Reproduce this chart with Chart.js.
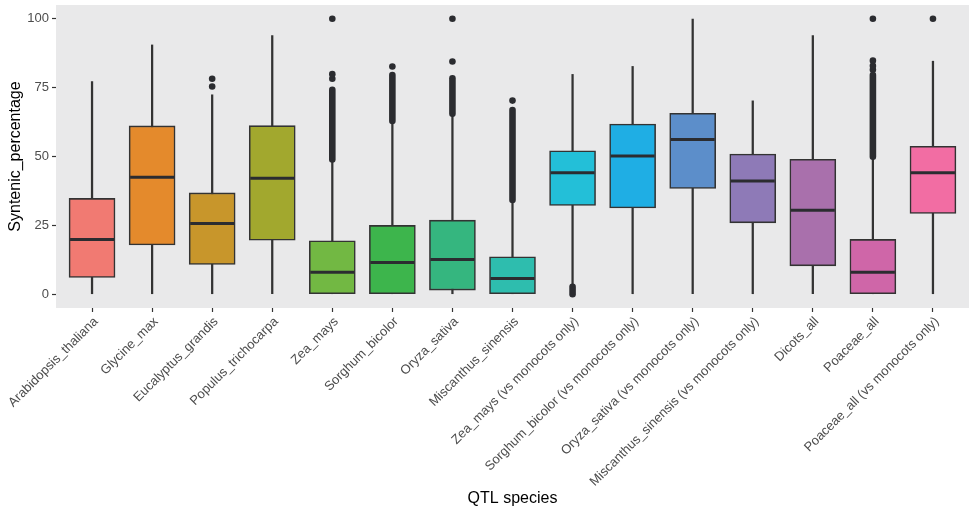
<!DOCTYPE html>
<html>
<head>
<meta charset="utf-8">
<script src="https://cdn.jsdelivr.net/npm/chart.js@4/dist/chart.umd.min.js"></script>
<style>
  html, body { margin: 0; padding: 0; background: #ffffff; }
  #wrap { width: 969px; height: 509px; }
</style>
</head>
<body>
<div id="wrap"><canvas id="c"></canvas></div>
<script>
// QTL species on the x axis
const species = [
  'Arabidopsis_thaliana', 'Glycine_max', 'Eucalyptus_grandis', 'Populus_trichocarpa',
  'Zea_mays', 'Sorghum_bicolor', 'Oryza_sativa', 'Miscanthus_sinensis',
  'Zea_mays (vs monocots only)', 'Sorghum_bicolor (vs monocots only)',
  'Oryza_sativa (vs monocots only)', 'Miscanthus_sinensis (vs monocots only)',
  'Dicots_all', 'Poaceae_all', 'Poaceae_all (vs monocots only)'
];

// Five-number summaries of syntenic percentage per species
const lowerWhisker = [0, 0, 0, 0, 0, 0, 0, 0, 3.5, 0, 0, 0, 0, 0, 0];
const q1           = [6.1, 17.9, 10.8, 19.6, 0, 0, 1.5, 0, 32.2, 31.3, 38.4, 25.9, 10.3, 0, 29.3];
const median       = [19.9, 42.5, 25.7, 42.1, 8.0, 11.5, 12.6, 5.7, 44.1, 50.2, 56.2, 41.1, 30.5, 8.0, 44.1];
const q3           = [34.8, 61.1, 36.8, 61.2, 19.4, 25.0, 26.9, 13.6, 52.1, 61.8, 65.7, 50.9, 49.0, 19.9, 53.7];
const upperWhisker = [77.2, 90.5, 72.4, 93.9, 48.3, 62.2, 64.6, 33.4, 79.8, 82.7, 99.9, 70.2, 93.9, 49.2, 84.6];

// Individually visible outliers
const outlierPoints = [
  [], [], [75.4, 78.2], [], [78.2, 79.9, 100], [82.7], [84.5, 100], [70.3],
  [], [], [], [], [], [81.5, 82.9, 84.8, 100], [100]
];
// Runs of outliers so dense they merge into a solid column
const outlierRunLow  = [null, null, null, null, 48.9, 62.9, 65.5, 34.2, 0, null, null, null, null, 49.9, null];
const outlierRunHigh = [null, null, null, null, 74.2, 79.6, 78.4, 66.9, 2.7, null, null, null, null, 79.6, null];

const boxColors = [
  '#F17A72', '#E48A2C', '#C8962B', '#A2A82E', '#72B843', '#3DB54C', '#35B67F', '#2EBDAE',
  '#23BFD8', '#1FAEE4', '#5C8ECA', '#8E7AB7', '#A970AC', '#CF66A8', '#F26DA3'
];

const yTicks = [0, 25, 50, 75, 100];

const FONT = "'Liberation Sans', Arial, Helvetica, sans-serif";
const INK = '#2b2c30';

const boxData = species.map((s, i) => ({ x: i, y: [q1[i], q3[i]] }));
const whiskerData = species.map((s, i) => ({ x: i, y: [lowerWhisker[i], upperWhisker[i]] }));
const pointData = outlierPoints.flatMap((arr, i) => arr.map(v => ({ x: i, y: v })));

// Grey panel behind the plot area
const panelBackground = {
  id: 'panelBackground',
  beforeDraw(chart) {
    const { ctx, chartArea: a } = chart;
    ctx.save();
    ctx.fillStyle = '#E9E9EA';
    ctx.fillRect(a.left, a.top, a.right - a.left, a.bottom - a.top);
    ctx.restore();
  }
};

// Median bars and dense outlier columns, placed through the chart scales
const boxExtras = {
  id: 'boxExtras',
  afterDatasetsDraw(chart) {
    const { ctx, scales: { x, y } } = chart;
    const half = 23;
    ctx.save();
    ctx.strokeStyle = INK;
    ctx.lineCap = 'round';
    ctx.lineWidth = 6.6;
    species.forEach((s, i) => {
      if (outlierRunLow[i] === null) return;
      const px = x.getPixelForValue(i);
      ctx.beginPath();
      ctx.moveTo(px, y.getPixelForValue(outlierRunLow[i]));
      ctx.lineTo(px, y.getPixelForValue(outlierRunHigh[i]));
      ctx.stroke();
    });
    ctx.lineCap = 'butt';
    ctx.lineWidth = 3;
    species.forEach((s, i) => {
      const px = x.getPixelForValue(i);
      const py = y.getPixelForValue(median[i]);
      ctx.beginPath();
      ctx.moveTo(px - half + 1, py);
      ctx.lineTo(px + half - 1, py);
      ctx.stroke();
    });
    ctx.restore();
  }
};

new Chart(document.getElementById('c'), {
  type: 'bar',
  data: {
    datasets: [
      {
        type: 'scatter',
        label: 'outliers',
        data: pointData,
        pointRadius: 3.3,
        pointBackgroundColor: INK,
        pointBorderWidth: 0,
        order: 0
      },
      {
        label: 'box',
        data: boxData,
        backgroundColor: boxColors,
        borderColor: '#333333',
        borderWidth: 1.6,
        borderSkipped: false,
        barThickness: 46,
        grouped: false,
        order: 1
      },
      {
        label: 'whisker',
        data: whiskerData,
        backgroundColor: '#333333',
        borderWidth: 0,
        barThickness: 1.6,
        grouped: false,
        order: 2
      }
    ]
  },
  options: {
    responsive: true,
    maintainAspectRatio: false,
    animation: false,
    layout: { autoPadding: false, padding: { top: 5, right: 0, bottom: 0, left: 0 } },
    plugins: { legend: { display: false }, tooltip: { enabled: false } },
    scales: {
      x: {
        type: 'linear',
        min: -0.6,
        max: 14.6,
        offset: false,
        afterBuildTicks: s => { s.ticks = species.map((_, i) => ({ value: i })); },
        afterFit: s => { s.height = 201; s.paddingLeft = 0; s.paddingRight = 0; },
        grid: { display: true, offset: false, drawOnChartArea: false, drawTicks: true, tickLength: 4, tickColor: '#333333', tickWidth: 1.2 },
        border: { display: false },
        ticks: {
          autoSkip: false, maxRotation: 45, minRotation: 45, padding: 2, labelOffset: 4,
          color: '#4D4D4D', font: { family: FONT, size: 13 },
          callback: v => species[v] ?? ''
        },
        title: {
          display: true, text: 'QTL species', color: '#000000',
          font: { family: FONT, size: 16 }, padding: { top: 0, bottom: 1 }
        }
      },
      y: {
        min: -5,
        max: 105,
        afterBuildTicks: s => { s.ticks = yTicks.map(v => ({ value: v })); },
        afterFit: s => { s.width = 56; s.paddingTop = 0; s.paddingBottom = 0; },
        grid: { display: true, drawOnChartArea: false, drawTicks: true, tickLength: 4, tickColor: '#333333', tickWidth: 1.2 },
        border: { display: false },
        ticks: { padding: 3, color: '#4D4D4D', font: { family: FONT, size: 13 } },
        title: {
          display: true, text: 'Syntenic_percentage', color: '#000000',
          font: { family: FONT, size: 16 }, padding: { top: 6, bottom: 0 }
        }
      }
    }
  },
  plugins: [panelBackground, boxExtras]
});
</script>
</body>
</html>
